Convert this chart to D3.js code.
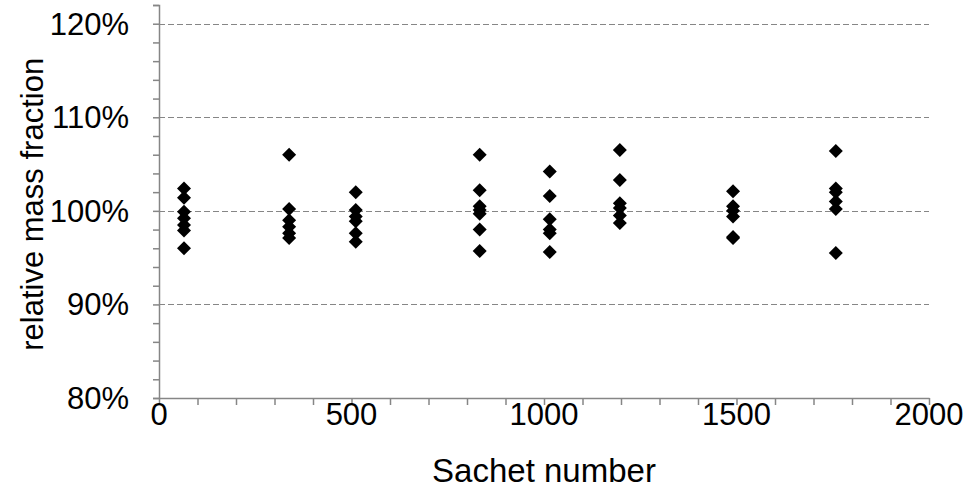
<!DOCTYPE html>
<html>
<head>
<meta charset="utf-8">
<script src="https://cdn.jsdelivr.net/npm/d3@7"></script>
<style>
  body { margin: 0; background: #fff; }
  text { font-family: "Liberation Sans", Arial, sans-serif; fill: #000; }
</style>
</head>
<body>
<svg id="chart" width="966" height="497"></svg>
<script>
// sachet numbers sampled and measured relative mass fractions (%)
const sachets = [65, 338, 511, 833, 1015, 1197, 1491, 1758];
const fractions = [
  [102.4, 101.4, 99.9, 99.2, 98.5, 97.9, 96.0],
  [106.0, 100.2, 99.0, 98.3, 97.6, 97.1],
  [102.0, 100.1, 99.4, 98.9, 97.6, 96.7],
  [106.0, 102.2, 100.5, 100.1, 99.7, 98.0, 95.7],
  [104.2, 101.6, 99.1, 98.0, 97.6, 95.6],
  [106.5, 103.3, 100.8, 100.3, 99.5, 98.7],
  [102.1, 100.5, 100.0, 99.4, 97.2, 97.1],
  [106.4, 102.4, 102.0, 101.0, 100.2, 95.5]
];
const xTicks = [0, 500, 1000, 1500, 2000];
const yTicks = [80, 90, 100, 110, 120];

const svg = d3.select('#chart');
const margin = { top: 5, right: 37, bottom: 99, left: 159 };
const width = 966 - margin.left - margin.right;
const height = 497 - margin.top - margin.bottom;

const x = d3.scaleLinear().domain([0, 2000]).range([0, width]);
const y = d3.scaleLinear().domain([80, 122]).range([height, 0]);

const g = svg.append('g')
  .attr('transform', `translate(${margin.left},${margin.top})`);

const axisColor = '#868686';
const fontSize = '31px';

// dashed gridlines
g.selectAll('.grid')
  .data(yTicks.filter((t) => t > 80))
  .enter()
  .append('line')
  .attr('x1', 0)
  .attr('x2', width)
  .attr('y1', (d) => Math.round(y(d)) + 0.5)
  .attr('y2', (d) => Math.round(y(d)) + 0.5)
  .attr('stroke', axisColor)
  .attr('stroke-width', 1)
  .attr('stroke-dasharray', '6,3');

// y axis: minor ticks every 2%
const yAxis = g.append('g')
  .call(d3.axisLeft(y).tickValues(d3.range(80, 122.1, 2)).tickSize(6).tickFormat(''));
yAxis.select('.domain').attr('stroke', axisColor).attr('stroke-width', 1.5);
yAxis.selectAll('.tick line').attr('stroke', axisColor).attr('stroke-width', 1.5);

g.selectAll('.ylab')
  .data(yTicks)
  .enter()
  .append('text')
  .attr('x', -30)
  .attr('y', (d) => y(d))
  .attr('dy', '0.35em')
  .attr('text-anchor', 'end')
  .style('font-size', fontSize)
  .text((d) => `${d}%`);

// x axis: ticks every 100
const xAxis = g.append('g')
  .attr('transform', `translate(0,${height})`)
  .call(d3.axisBottom(x).tickValues(d3.range(0, 2001, 100)).tickSize(7).tickSizeOuter(0).tickFormat(''));
xAxis.select('.domain').attr('stroke', axisColor).attr('stroke-width', 1.5);
xAxis.selectAll('.tick line').attr('stroke', axisColor).attr('stroke-width', 1.5);

g.selectAll('.xlab')
  .data(xTicks)
  .enter()
  .append('text')
  .attr('x', (d) => x(d))
  .attr('y', height + 27)
  .attr('text-anchor', 'middle')
  .style('font-size', fontSize)
  .text((d) => d);

// axis titles
svg.append('text')
  .attr('x', margin.left + width / 2)
  .attr('y', 482)
  .attr('text-anchor', 'middle')
  .style('font-size', '33px')
  .text('Sachet number');

svg.append('text')
  .attr('transform', `translate(43,${margin.top + y(100.7)}) rotate(-90)`)
  .attr('text-anchor', 'middle')
  .style('font-size', fontSize)
  .text('relative mass fraction');

// diamond markers
const points = [];
sachets.forEach((s, i) => {
  fractions[i].forEach((v) => points.push([s, v]));
});

const r = 7;
g.selectAll('.pt')
  .data(points)
  .enter()
  .append('path')
  .attr('d', `M0,${-r}L${r},0L0,${r}L${-r},0Z`)
  .attr('transform', (d) => `translate(${x(d[0])},${y(d[1])})`)
  .attr('fill', '#000');
</script>
</body>
</html>
